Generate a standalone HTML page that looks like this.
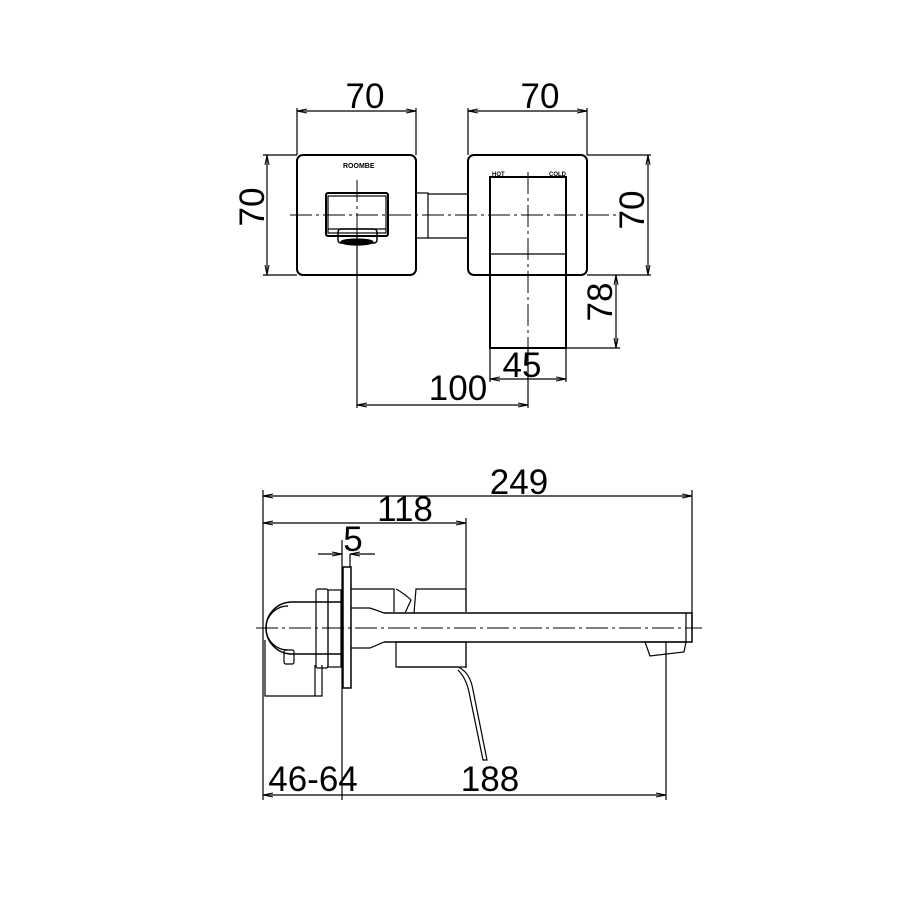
<!DOCTYPE html>
<html><head><meta charset="utf-8"><style>
html,body{margin:0;padding:0;background:#fff}
svg{display:block}
text{font-family:"Liberation Sans",sans-serif;font-size:35px;fill:#000}
</style></head><body>
<svg width="902" height="902" viewBox="0 0 902 902" xmlns="http://www.w3.org/2000/svg">
<defs>
<marker id="a" viewBox="0 0 10 6" refX="10" refY="3" markerWidth="10" markerHeight="6" orient="auto-start-reverse" markerUnits="userSpaceOnUse"><path d="M0,1 L10,3 L0,5" fill="none" stroke="#000" stroke-width="1"/></marker>
</defs>
<g fill="none" stroke="#000" stroke-width="1.2">
<!-- TOP VIEW -->
<!-- extension lines -->
<line x1="297" y1="108" x2="297" y2="155"/><line x1="416" y1="108" x2="416" y2="155"/>
<line x1="468" y1="108" x2="468" y2="155"/><line x1="587" y1="108" x2="587" y2="155"/>
<line x1="263" y1="155" x2="297" y2="155"/><line x1="263" y1="275" x2="297" y2="275"/>
<line x1="587" y1="155" x2="651" y2="155"/><line x1="587" y1="275" x2="651" y2="275"/>
<line x1="566" y1="348" x2="620" y2="348"/>
<!-- dims -->
<line x1="297" y1="111" x2="416" y2="111" marker-start="url(#a)" marker-end="url(#a)"/>
<line x1="468" y1="111" x2="587" y2="111" marker-start="url(#a)" marker-end="url(#a)"/>
<line x1="267" y1="155" x2="267" y2="275" marker-start="url(#a)" marker-end="url(#a)"/>
<line x1="648" y1="155" x2="648" y2="275" marker-start="url(#a)" marker-end="url(#a)"/>
<line x1="616" y1="275" x2="616" y2="348" marker-start="url(#a)" marker-end="url(#a)"/>
<line x1="490" y1="348" x2="490" y2="382"/><line x1="566" y1="348" x2="566" y2="382"/>
<line x1="490" y1="379" x2="566" y2="379" marker-start="url(#a)" marker-end="url(#a)"/>
<line x1="357" y1="236" x2="357" y2="408"/><line x1="528" y1="348" x2="528" y2="408"/>
<line x1="357" y1="405" x2="528" y2="405" marker-start="url(#a)" marker-end="url(#a)"/>
<!-- plates -->
<rect x="297" y="155" width="119" height="120" rx="6" stroke-width="2"/>
<rect x="468" y="155" width="119" height="120" rx="6" stroke-width="2"/>
<!-- spout opening -->
<rect x="326" y="193" width="62" height="43" rx="2" stroke-width="2"/>
<rect x="328" y="196" width="58" height="37"/>
<line x1="328" y1="229" x2="386" y2="229"/>
<rect x="338" y="229" width="39" height="14" rx="3" stroke-width="1.5"/>
<ellipse cx="357" cy="242" rx="16" ry="3" fill="#000"/>
<!-- connector -->
<rect x="416" y="193" width="12" height="45"/>
<line x1="428" y1="194" x2="468" y2="194"/><line x1="428" y1="238" x2="468" y2="238"/>
<!-- handle -->
<rect x="490" y="177" width="76" height="171" stroke-width="2"/>
<line x1="490" y1="254" x2="566" y2="254"/>
<!-- centerlines -->
<line x1="290" y1="215" x2="620" y2="215" stroke-dasharray="22 4 3 4" stroke-width="1"/>
<line x1="528" y1="172" x2="528" y2="348" stroke-dasharray="22 4 3 4" stroke-width="1"/>
<line x1="357" y1="180" x2="357" y2="236" stroke-dasharray="22 4 3 4" stroke-width="1"/>

<!-- SIDE VIEW -->
<line x1="263" y1="490" x2="263" y2="800"/>
<line x1="692" y1="490" x2="692" y2="630"/>
<line x1="466" y1="518" x2="466" y2="612"/>
<line x1="466" y1="642" x2="466" y2="668"/>
<line x1="342" y1="540" x2="342" y2="800"/>
<line x1="666" y1="642" x2="666" y2="800"/>
<line x1="263" y1="496" x2="692" y2="496" marker-start="url(#a)" marker-end="url(#a)"/>
<line x1="263" y1="523" x2="466" y2="523" marker-start="url(#a)" marker-end="url(#a)"/>
<line x1="318" y1="554" x2="342" y2="554" marker-end="url(#a)"/>
<line x1="375" y1="554" x2="350" y2="554" marker-end="url(#a)"/>
<line x1="350" y1="554" x2="350" y2="567"/>
<line x1="263" y1="795" x2="666" y2="795" marker-start="url(#a)" marker-end="url(#a)"/>
<!-- plate -->
<rect x="343" y="567" width="8" height="121" stroke-width="1.5"/>
<!-- nuts -->
<rect x="316" y="589" width="12" height="79" rx="2"/>
<rect x="328" y="590" width="13" height="77"/>
<!-- body with dome -->
<path d="M341,602 L292,602 A26,26 0 0 0 292,654 L341,654" stroke-width="1.5"/>
<path d="M288,606 A22,22 0 0 0 288,650"/>
<path d="M265,640 L265,696 L322,696 L322,665"/>
<line x1="315" y1="665" x2="315" y2="696"/>
<rect x="284" y="650" width="10" height="14" rx="2"/>
<!-- upper body / lower body -->
<path d="M351,589 L394,589 L394,612"/>
<path d="M351,608 L370,608 L384,613"/>
<path d="M351,648 L370,648 L384,642"/>
<path d="M396,589 Q405,594 411,600 L405,613"/>
<path d="M414,613 L416,589 L466,589 L466,612"/>
<rect x="396" y="642" width="70" height="25"/>
<!-- spout -->
<path d="M384,613 L692,613 L692,642 L384,642" stroke-width="1.5"/>
<line x1="686" y1="613" x2="686" y2="642"/>
<!-- aerator -->
<path d="M645,642 L686,642 L684,652 L650,656 Z"/>
<!-- lever -->
<path d="M398,667 L458,667 Q470,672 473,690 L487,760 L483,760 L469,692 Q466,678 458,670"/>
<!-- centerline -->
<line x1="256" y1="628" x2="702" y2="628" stroke-dasharray="22 4 3 4" stroke-width="1"/>
</g>
<g font-size="7" style="font-size:7px;font-weight:bold">
<text x="343" y="168" style="font-size:7px;font-weight:bold">ROOMBE</text>
<text x="492" y="176" style="font-size:6px;font-weight:bold">HOT</text>
<text x="549" y="176" style="font-size:6px;font-weight:bold">COLD</text>
</g>
<text x="365" y="108" text-anchor="middle">70</text>
<text x="540" y="108" text-anchor="middle">70</text>
<text transform="translate(264,207) rotate(-90)" text-anchor="middle">70</text>
<text transform="translate(644,210) rotate(-90)" text-anchor="middle">70</text>
<text transform="translate(612,302) rotate(-90)" text-anchor="middle">78</text>
<text x="522" y="377" text-anchor="middle">45</text>
<text x="458" y="400" text-anchor="middle">100</text>
<text x="519" y="494" text-anchor="middle">249</text>
<text x="405" y="521" text-anchor="middle">118</text>
<text x="353" y="551" text-anchor="middle">5</text>
<text x="313" y="791" text-anchor="middle">46-64</text>
<text x="490" y="791" text-anchor="middle">188</text>
</svg>
</body></html>
